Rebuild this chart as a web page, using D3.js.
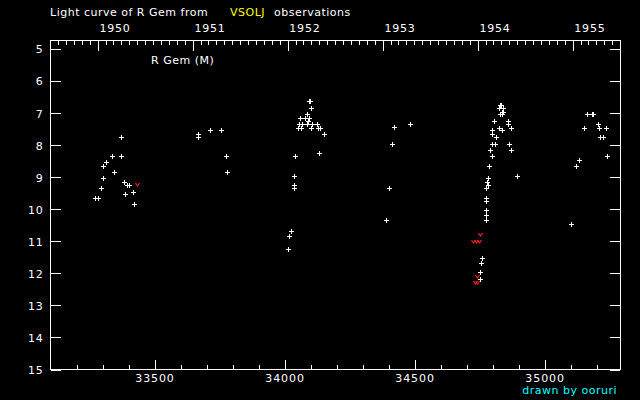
<!DOCTYPE html>
<html><head><meta charset="utf-8">
<script src="https://cdn.jsdelivr.net/npm/d3@7"></script>
<style>
html,body{margin:0;padding:0;background:#000;}
svg{display:block;}
text{font-family:"DejaVu Sans",sans-serif;}
</style></head>
<body>
<script>
// Julian Date - 2400000 and visual magnitude of observations
const obsJD = [
 33269.5,33281,33293,33300,33300,33312,33335,33343,33370,33370,33381,33385,33396,33402,33416,33423,
 33665.5,33669,33715,33754,33773,33777,
 34015,34019,34023,34034.5,34034.5,34038,34042,
 34052.5,34064,34056,34068,34061,34079.5,34095,34084.5,34088,34092,34094,34096,34100,34102.5,34107.5,34123,34127,34138,34150,34131,
 34392,34400,34415,34420,34483,
 34776,34783,34780,34784,34776,34776,34776,34773,34773,34788,34799.5,34792,34796,34811,34815,34799.5,34799.5,34807,34826,34838,
 34828,34837,34836,34842,34824,34842,34828,34831,34861,34861,34870,34865,34872.5,34892,
 34761,34757,34753,34753,
 35103,35122,35134,35153,35164.5,35183,35186,35207,35211,35238,35215,35226,35241.5
];
const obsMag = [
 9.63,9.63,9.34,9.03,8.63,8.53,8.34,8.84,8.34,7.75,9.13,9.53,9.25,9.25,9.44,9.84,
 7.63,7.75,7.53,7.53,8.34,8.84,
 11.25,10.84,10.66,9.34,9.25,8.94,8.34,
 7.44,7.44,7.34,7.34,7.13,7.13,7.13,7.03,7.34,7.25,6.62,6.62,6.84,7.44,7.34,7.34,7.44,7.44,7.63,8.25,
 10.34,9.34,7.94,7.41,7.34,
 9.34,9.25,9.13,9.03,9.63,9.75,10.03,10.16,10.34,8.63,8.34,8.13,7.94,7.94,7.75,7.53,7.63,7.25,7.44,7.53,
 7.03,7.03,6.94,6.94,6.84,6.84,6.75,6.75,7.25,7.34,7.44,7.94,8.13,8.94,
 11.53,11.66,11.94,12.16,
 10.44,8.63,8.44,7.44,7.03,7.03,7.03,7.34,7.44,7.44,7.75,7.75,8.34
];
// "fainter than" limits (red v marks)
const limJD  = [33432, 34753, 34726.5, 34738, 34749.5, 34742, 34734, 34742];
const limMag = [9.19, 10.78, 10.97, 10.97, 10.97, 12.09, 12.28, 12.28];

const xMajorTicks = [33500, 34000, 34500, 35000];
const xMinorTicks = d3.range(33200, 35290, 100);
const yTicks = [5,6,7,8,9,10,11,12,13,14,15];
const xDomain = [33100, 35290];
const yDomain = [4.72, 15];

const W = 640, H = 400;
const L = 50.5, R = 620, T = 40.5, B = 369.5;

const svg = d3.select("body").append("svg").attr("width", W).attr("height", H)
  .style("background", "#000");

const x = d3.scaleLinear().domain(xDomain).range([L, R]);
const y = d3.scaleLinear().domain(yDomain).range([T, B]);

const jdToDate = jd => new Date((jd + 2400000 - 2440587.5) * 86400000);
const xt = d3.scaleUtc().domain(xDomain.map(jdToDate)).range([L, R]);

function styleAxis(g) {
  g.select(".domain").remove();
  g.selectAll("line").attr("stroke", "#fff").attr("stroke-width", 1).attr("shape-rendering", "crispEdges");
  g.selectAll("text").attr("fill", "#fff").style("font-size", "11px").style("font-family", '"DejaVu Sans",sans-serif');
}

// frame
svg.append("rect").attr("x", L).attr("y", T).attr("width", R - L).attr("height", B - T)
  .attr("fill", "none").attr("stroke", "#fff").attr("stroke-width", 1).attr("shape-rendering", "crispEdges");

// bottom axis
svg.append("g").attr("transform", `translate(0,${B})`)
  .call(d3.axisBottom(x).tickValues(xMinorTicks).tickSize(-5).tickFormat(""))
  .call(styleAxis);
svg.append("g").attr("transform", `translate(0,${B})`)
  .call(d3.axisBottom(x).tickValues(xMajorTicks).tickSize(-10).tickPadding(5).tickFormat(d3.format("d")))
  .call(styleAxis)
  .selectAll("text").attr("letter-spacing", "0.9px");

// top axis (years)
const months = d3.utcMonth.range(...xDomain.map(jdToDate)).filter(d => d.getUTCMonth() !== 0);
const years = d3.utcYear.range(...xDomain.map(jdToDate));
svg.append("g").attr("transform", `translate(0,${T})`)
  .call(d3.axisTop(xt).tickValues(months).tickSize(-4).tickFormat(""))
  .call(styleAxis);
const topMaj = svg.append("g").attr("transform", `translate(0,${T})`)
  .call(d3.axisTop(xt).tickValues(years).tickSize(-10).tickPadding(9).tickFormat(d3.utcFormat("%Y")))
  .call(styleAxis);
topMaj.selectAll("text").attr("text-anchor", "start").attr("dx", "1").attr("letter-spacing", "0.8px");

// left axis
svg.append("g").attr("transform", `translate(${L},0)`)
  .call(d3.axisLeft(y).tickValues(yTicks).tickSize(-10).tickPadding(7).tickFormat(d3.format("d")))
  .call(styleAxis)
  .selectAll("text").attr("letter-spacing", "0.8px");
// right axis
svg.append("g").attr("transform", `translate(${R},0)`)
  .call(d3.axisRight(y).tickValues(yTicks).tickSize(-10).tickFormat(""))
  .call(styleAxis);

// observations (white plus)
const plus = "M-2,0H3M0.5,-2.5V2.5";
svg.append("g").selectAll("path").data(obsJD).join("path")
  .attr("transform", (d, i) => `translate(${Math.round(x(d))},${Math.round(y(obsMag[i])) + 0.5})`)
  .attr("d", "M-2,0H3M0.5,-2.5V2.5")
  .attr("stroke", "#fff").attr("stroke-width", 1).attr("fill", "none");

// limits (red v)
svg.append("g").selectAll("path").data(limJD).join("path")
  .attr("transform", (d, i) => `translate(${Math.round(x(d)) + 0.5},${Math.round(y(limMag[i])) + 0.5})`)
  .attr("d", "M-2,-1.5L0,1.5L2,-1.5")
  .attr("stroke", "#ff2020").attr("stroke-width", 1.2).attr("fill", "none");

// texts
const tFont = { "font-size": "11px" };
svg.append("text").attr("x", 50).attr("y", 16).attr("fill", "#fff").style("font-size", "11px")
  .attr("letter-spacing", "0.5px").text("Light curve of R Gem from");
svg.append("text").attr("x", 230).attr("y", 16).attr("fill", "#ffff00").style("font-size", "11px")
  .attr("letter-spacing", "0.5px").text("VSOLJ");
svg.append("text").attr("x", 274).attr("y", 16).attr("fill", "#fff").style("font-size", "11px")
  .attr("letter-spacing", "0.5px").text("observations");
svg.append("text").attr("x", 151).attr("y", 64).attr("fill", "#fff").style("font-size", "11px")
  .attr("letter-spacing", "0.5px").text("R Gem (M)");
svg.append("text").attr("x", 617).attr("y", 394).attr("text-anchor", "end").attr("fill", "#00ffff")
  .style("font-size", "11px").attr("letter-spacing", "0.5px").text("drawn by ooruri");
</script>
</body></html>
